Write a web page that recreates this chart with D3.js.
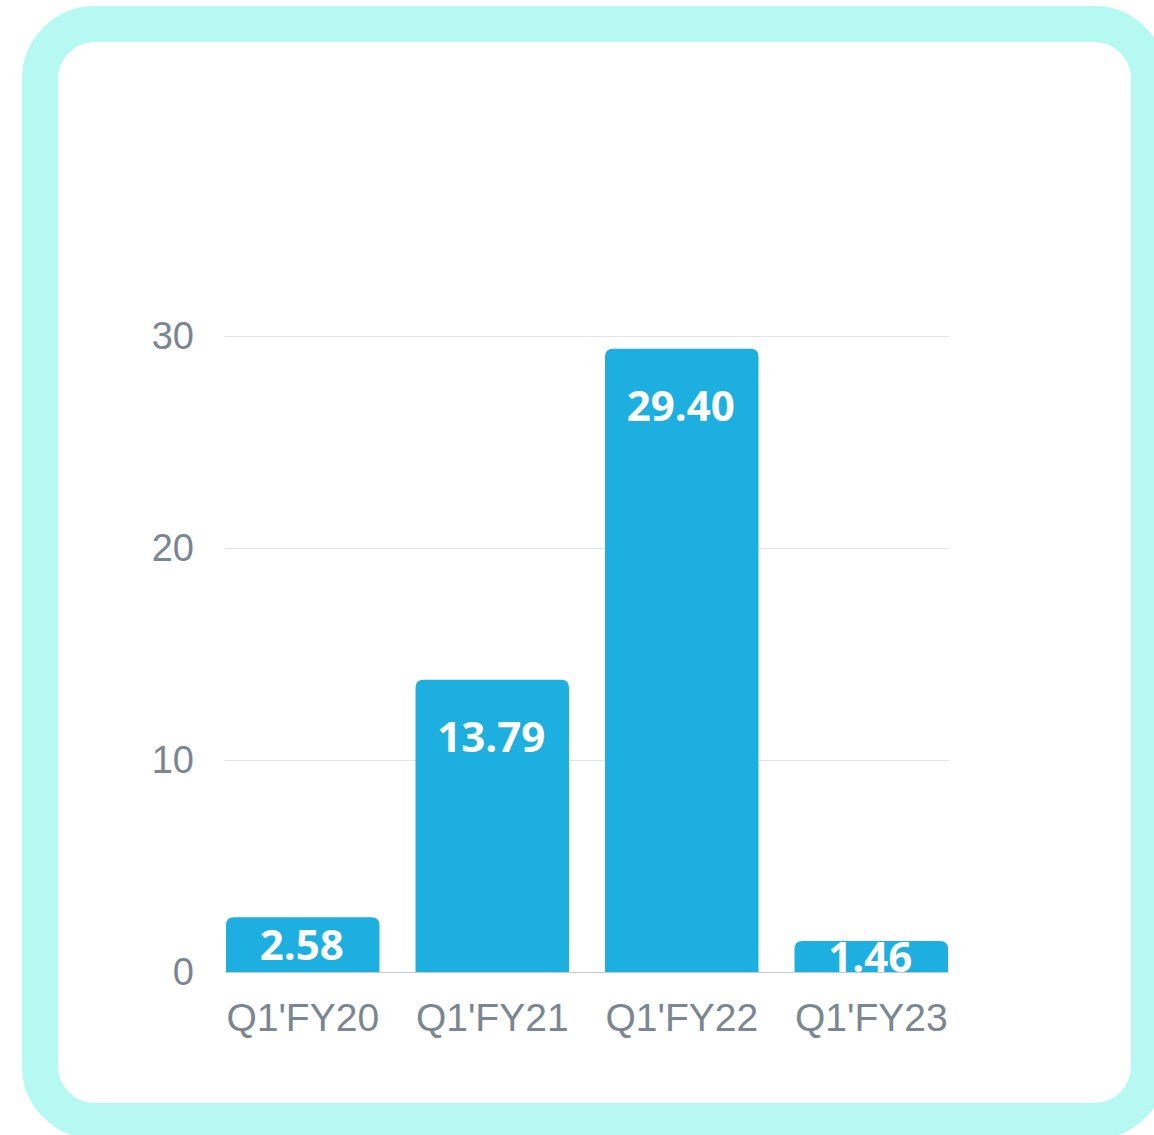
<!DOCTYPE html>
<html>
<head>
<meta charset="utf-8">
<script src="https://cdn.jsdelivr.net/npm/d3@7"></script>
<style>
  body { margin: 0; background: #fff; }
  svg { display: block; }
</style>
</head>
<body>
<svg id="chart"></svg>
<script>
const quarters = ["Q1'FY20", "Q1'FY21", "Q1'FY22", "Q1'FY23"];
const values = [2.58, 13.79, 29.40, 1.46];
const yTicks = [0, 10, 20, 30];

function drawChart() {
    const width = 1154;
    const height = 1135;
    const barColor = "#1dafe0";
    const labelColor = "#7a8691";

    const svg = d3.select("#chart")
        .attr("width", width)
        .attr("height", height);

    // frame
    svg.append("rect")
        .attr("x", 40)
        .attr("y", 24)
        .attr("width", 1109)
        .attr("height", 1097)
        .attr("rx", 55)
        .attr("fill", "#fff")
        .attr("stroke", "#b6f9f2")
        .attr("stroke-width", 36);

    const x = d3.scaleBand()
        .domain(quarters)
        .range([226, 948])
        .paddingInner(0.19)
        .paddingOuter(0);

    const y = d3.scaleLinear()
        .domain([0, 30])
        .range([972, 336]);

    // grid
    svg.selectAll(".grid")
        .data(yTicks.filter(d => d > 0))
        .join("line")
        .attr("class", "grid")
        .attr("x1", 225)
        .attr("x2", 949)
        .attr("y1", d => y(d) + 0.5)
        .attr("y2", d => y(d) + 0.5)
        .attr("stroke", "#e1e4e8")
        .attr("stroke-width", 1);

    // y labels
    svg.selectAll(".ylab")
        .data(yTicks)
        .join("text")
        .attr("class", "ylab")
        .attr("x", 194)
        .attr("y", d => y(d))
        .attr("dy", "0.35em")
        .attr("text-anchor", "end")
        .attr("font-family", "Liberation Sans, Arial, sans-serif")
        .attr("font-size", 38)
        .attr("fill", labelColor)
        .text(d => d);

    // bars with rounded top corners
    const r = 8;
    function barPath(d, i) {
        const x0 = x(quarters[i]);
        const w = x.bandwidth();
        const top = y(d);
        const bottom = y(0);
        return `M${x0},${bottom} V${top + r} Q${x0},${top} ${x0 + r},${top} H${x0 + w - r} Q${x0 + w},${top} ${x0 + w},${top + r} V${bottom} Z`;
    }

    svg.selectAll(".bar")
        .data(values)
        .join("path")
        .attr("class", "bar")
        .attr("d", barPath)
        .attr("fill", barColor);

    // baseline
    svg.append("line")
        .attr("x1", 225)
        .attr("x2", 949)
        .attr("y1", y(0) + 0.5)
        .attr("y2", y(0) + 0.5)
        .attr("stroke", "#c5cad0")
        .attr("stroke-width", 1);

    // value labels, clipped to plot
    svg.append("clipPath")
        .attr("id", "plotClip")
        .append("rect")
        .attr("x", 220)
        .attr("y", 300)
        .attr("width", 740)
        .attr("height", y(0) - 300);

    svg.append("g")
        .attr("clip-path", "url(#plotClip)")
        .selectAll(".val")
        .data(values)
        .join("text")
        .attr("class", "val")
        .attr("x", (d, i) => x(quarters[i]) + x.bandwidth() / 2 - 1)
        .attr("y", d => Math.min(y(d) + 57, (y(d) + y(0)) / 2))
        .attr("dy", "0.36em")
        .attr("text-anchor", "middle")
        .attr("font-family", "Open Sans, sans-serif")
        .attr("font-weight", "bold")
        .attr("font-size", 42)
        .attr("fill", "#fff")
        .text(d => d.toFixed(2));

    // x labels
    svg.selectAll(".xlab")
        .data(quarters)
        .join("text")
        .attr("class", "xlab")
        .attr("x", d => x(d) + x.bandwidth() / 2)
        .attr("y", 1017)
        .attr("dy", "0.35em")
        .attr("text-anchor", "middle")
        .attr("font-family", "Liberation Sans, Arial, sans-serif")
        .attr("font-size", 39)
        .attr("fill", labelColor)
        .text(d => d);
}

drawChart();
</script>
</body>
</html>
